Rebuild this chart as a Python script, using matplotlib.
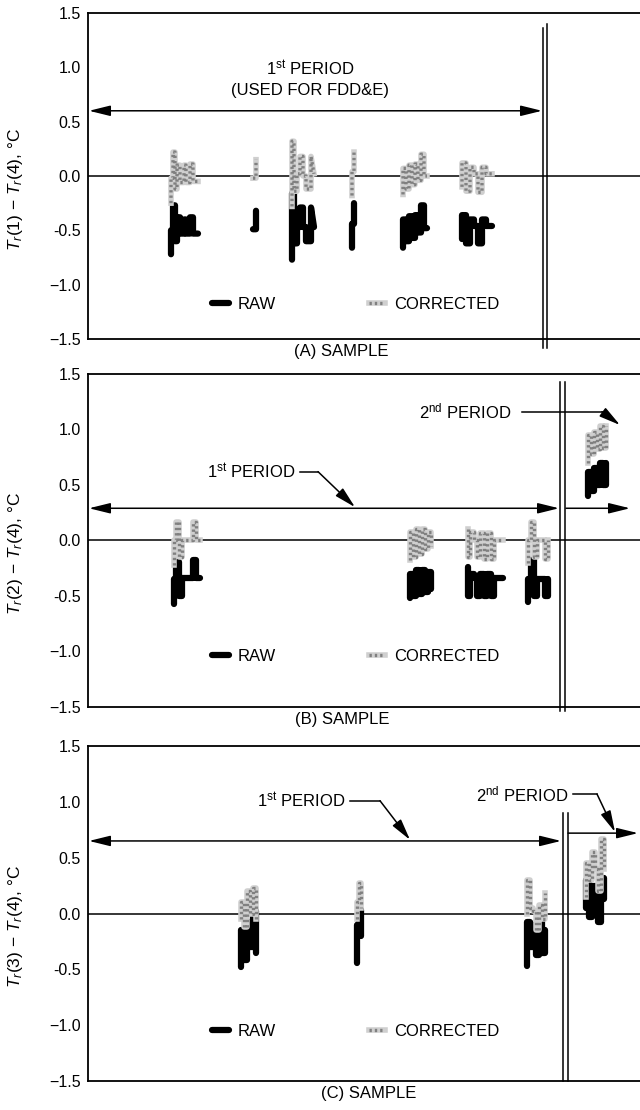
import numpy as np
import matplotlib
matplotlib.use("Agg")
import matplotlib.pyplot as plt

plt.rcParams['font.family'] = ['Liberation Sans', 'DejaVu Sans']
plt.rcParams['mathtext.fontset'] = 'custom'
plt.rcParams['mathtext.rm'] = 'Liberation Sans'
plt.rcParams['mathtext.it'] = 'Liberation Sans:italic'

nan = np.nan

# sample positions (arbitrary sample number) and temperature differences, °C
# panel A: Tr(1) - Tr(4)
sample_a = [171, 171, 173, 173, 175, 175, 177, 177, 180, 180, 184, 184, 186, 186, 190, 190, 193, 193, 198, nan,
            253, 256, 256, nan,
            292, 292, 294, 294, 297, 297, 300, 300, 303, 303, 306, 306, 311, 311, 314, nan,
            352, 352, 354, 354, nan,
            403, 403, 406, 406, 409, 409, 412, 412, 415, 415, 418, 418, 421, 421, 424, 424, 427, nan,
            462, 462, 466, 466, 470, 470, 474, 474, 478, 478, 482, 482, 486, 486, 492]
raw_a = [-0.72, -0.50, -0.50, -0.27, -0.27, -0.60, -0.60, -0.38, -0.38, -0.53, -0.53, -0.40, -0.40, -0.53, -0.53, -0.38, -0.38, -0.53, -0.53, nan,
         -0.49, -0.49, -0.32, nan,
         -0.77, -0.16, -0.16, -0.62, -0.62, -0.47, -0.47, -0.29, -0.29, -0.47, -0.47, -0.60, -0.60, -0.29, -0.47, nan,
         -0.66, -0.44, -0.44, -0.25, nan,
         -0.66, -0.40, -0.40, -0.60, -0.60, -0.37, -0.37, -0.57, -0.57, -0.36, -0.36, -0.52, -0.52, -0.27, -0.27, -0.48, -0.48, nan,
         -0.58, -0.36, -0.36, -0.62, -0.62, -0.40, -0.40, -0.46, -0.46, -0.62, -0.62, -0.40, -0.40, -0.46, -0.46]
cor_a = [-0.25, -0.02, -0.02, 0.22, 0.22, -0.12, -0.12, 0.10, 0.10, -0.06, -0.06, 0.10, 0.10, -0.06, -0.06, 0.11, 0.11, -0.05, -0.05, nan,
         -0.02, -0.02, 0.15, nan,
         -0.28, 0.32, 0.32, -0.14, -0.14, 0.02, 0.02, 0.18, 0.18, 0.00, 0.00, -0.12, -0.12, 0.18, 0.02, nan,
         -0.18, 0.04, 0.04, 0.22, nan,
         -0.17, 0.07, 0.07, -0.12, -0.12, 0.10, 0.10, -0.08, -0.08, 0.11, 0.11, -0.04, -0.04, 0.20, 0.20, 0.00, 0.00, nan,
         -0.10, 0.12, 0.12, -0.14, -0.14, 0.08, 0.08, 0.02, 0.02, -0.15, -0.15, 0.08, 0.08, 0.02, 0.02]

# panel B: Tr(2) - Tr(4)
sample_b = [174, 174, 176, 176, 179, 179, 182, 182, 185, 185, 190, 190, 193, 193, 196, 196, 200, nan,
            410, 410, 413, 413, 416, 416, 419, 419, 422, 422, 425, 425, 428, 428, 431, 431, nan,
            468, 468, 470, 470, 474, 474, 477, 477, 480, 480, 484, 484, 487, 487, 491, 491, 494, 494, 497, 497, 503, nan,
            528, 528, 531, 531, 534, 534, 537, 537, 541, 541, 545, 545, 548, 548, nan,
            588, 588, 591, 591, 594, 594, 597, 597, 600, 600, 603, 603, 606, 606]
raw_b = [-0.57, -0.35, -0.35, -0.19, -0.19, -0.50, -0.50, -0.34, -0.34, -0.34, -0.34, -0.34, -0.34, -0.18, -0.18, -0.34, -0.34, nan,
         -0.52, -0.30, -0.30, -0.50, -0.50, -0.27, -0.27, -0.48, -0.48, -0.27, -0.27, -0.46, -0.46, -0.28, -0.28, -0.44, nan,
         -0.24, -0.50, -0.50, -0.30, -0.30, -0.34, -0.34, -0.50, -0.50, -0.30, -0.30, -0.50, -0.50, -0.30, -0.30, -0.50, -0.50, -0.34, -0.34, -0.34, -0.34, nan,
         -0.55, -0.35, -0.35, -0.18, -0.18, -0.50, -0.50, -0.35, -0.35, -0.35, -0.35, -0.50, -0.50, -0.35, nan,
         0.40, 0.62, 0.62, 0.45, 0.45, 0.65, 0.65, 0.50, 0.50, 0.70, 0.70, 0.50, 0.50, 0.70]
cor_b = [-0.22, 0.00, 0.00, 0.17, 0.17, -0.15, -0.15, 0.00, 0.00, 0.00, 0.00, 0.00, 0.00, 0.17, 0.17, 0.00, 0.00, nan,
         -0.18, 0.08, 0.08, -0.15, -0.15, 0.10, 0.10, -0.12, -0.12, 0.10, 0.10, -0.08, -0.08, 0.08, 0.08, -0.05, nan,
         0.10, -0.15, -0.15, 0.08, 0.08, 0.00, 0.00, -0.15, -0.15, 0.07, 0.07, -0.17, -0.17, 0.07, 0.07, -0.17, -0.17, 0.00, 0.00, 0.00, 0.00, nan,
         -0.20, 0.00, 0.00, 0.17, 0.17, -0.15, -0.15, 0.00, 0.00, 0.00, 0.00, -0.17, -0.17, 0.00, nan,
         0.70, 0.95, 0.95, 0.78, 0.78, 0.98, 0.98, 0.82, 0.82, 1.03, 1.03, 0.83, 0.83, 1.03]

# panel C: Tr(3) - Tr(4)
sample_c = [241, 241, 244, 244, 247, 247, 250, 250, 253, 253, 256, 256, nan,
            357, 357, 359, 359, 361, 361, nan,
            527, 527, 530, 530, 533, 533, 536, 536, 539, 539, 542, 542, 545, 545, nan,
            586, 586, 589, 589, 592, 592, 595, 595, 598, 598, 601, 601, 604, 604]
raw_c = [-0.48, -0.15, -0.15, -0.42, -0.42, -0.08, -0.08, -0.30, -0.30, 0.02, 0.02, -0.35, nan,
         -0.44, -0.10, -0.10, 0.03, 0.03, -0.20, nan,
         -0.47, -0.08, -0.08, -0.30, -0.30, -0.10, -0.10, -0.37, -0.37, -0.05, -0.05, -0.35, -0.35, -0.15, nan,
         0.05, 0.30, 0.30, -0.03, -0.03, 0.25, 0.25, 0.15, 0.15, -0.08, -0.08, 0.32, 0.32, 0.13]
cor_c = [-0.05, 0.10, 0.10, -0.12, -0.12, 0.20, 0.20, 0.00, 0.00, 0.23, 0.23, -0.05, nan,
         -0.05, 0.10, 0.10, 0.27, 0.27, 0.05, nan,
         0.00, 0.30, 0.30, 0.05, 0.05, 0.02, 0.02, -0.15, -0.15, 0.08, 0.08, -0.05, -0.05, 0.18, nan,
         0.15, 0.45, 0.45, 0.30, 0.30, 0.55, 0.55, 0.40, 0.40, 0.20, 0.20, 0.67, 0.67, 0.40]

y_ticks = [-1.5, -1.0, -0.5, 0.0, 0.5, 1.0, 1.5]
y_tick_labels = ['\u22121.5', '\u22121.0', '-0.5', '0.0', '0.5', '1.0', '1.5']
x_min, x_max = 88, 640

fs = 12
fig = plt.figure(figsize=(6.4, 11.1), dpi=100)

panels = [
    dict(rect=[0.1375, 0.6946, 0.8625, 0.2937], x=sample_a, raw=raw_a, cor=cor_a,
         ylabel=r'$T_r$(1) $-$ $T_r$(4), °C', xlabel='(A) SAMPLE', xlab_pos=0.458,
         leg_y=0.107),
    dict(rect=[0.1375, 0.3631, 0.8625, 0.3000], x=sample_b, raw=raw_b, cor=cor_b,
         ylabel=r'$T_r$(2) $-$ $T_r$(4), °C', xlabel='(B) SAMPLE', xlab_pos=0.460,
         leg_y=0.153),
    dict(rect=[0.1375, 0.0261, 0.8625, 0.3018], x=sample_c, raw=raw_c, cor=cor_c,
         ylabel=r'$T_r$(3) $-$ $T_r$(4), °C', xlabel='(C) SAMPLE', xlab_pos=0.508,
         leg_y=0.147),
]

axes = []
for p in panels:
    ax = fig.add_axes(p['rect'])
    ax.set_xlim(x_min, x_max)
    ax.set_ylim(-1.5, 1.5)
    ax.axhline(0, color='black', lw=1.1, zorder=1)
    raw_line, = ax.plot(p['x'], p['raw'], color='black', lw=4.5, solid_capstyle='round', zorder=3)
    cor_base, = ax.plot(p['x'], p['cor'], color='#cfcfcf', lw=4.0, zorder=4)
    cor_dots, = ax.plot(p['x'], p['cor'], color='#808080', lw=2.4, ls=(0, (0.7, 0.9)), zorder=5)
    ax.set_yticks(y_ticks)
    ax.set_yticklabels(y_tick_labels, fontsize=fs - 0.5)
    ax.set_xticks([])
    ax.tick_params(axis='y', length=0, pad=5)
    ax.spines['right'].set_visible(False)
    for s in ['left', 'top', 'bottom']:
        ax.spines[s].set_linewidth(1.3)
    ax.set_ylabel(p['ylabel'], fontsize=fs + 0.5)
    ax.yaxis.set_label_coords(-0.115, 0.46)
    ax.set_xlabel(p['xlabel'], fontsize=fs)
    ax.xaxis.set_label_coords(p['xlab_pos'], -0.015)
    ax.xaxis.label.set_va('top')
    ax.legend([raw_line, (cor_base, cor_dots)], ['RAW', 'CORRECTED'], ncol=2, frameon=False,
              loc='center left', bbox_to_anchor=(0.225, p['leg_y']), borderpad=0, borderaxespad=0,
              handlelength=1.0, handletextpad=0.5, columnspacing=5.6, fontsize=fs)
    axes.append(ax)

ax_a, ax_b, ax_c = axes
arrow_kw = dict(color='black', lw=1.1, shrinkA=0, shrinkB=0, mutation_scale=10)
head2 = '<|-|>,head_length=1.3,head_width=0.32'
head1 = '-|>,head_length=1.3,head_width=0.32'

# panel A annotations
ax_a.plot([543, 543], [-1.58, 1.36], color='black', lw=1.1, clip_on=False)
ax_a.plot([547, 547], [-1.58, 1.40], color='black', lw=1.1, clip_on=False)
ax_a.annotate('', xy=(89, 0.6), xytext=(542, 0.6), arrowprops=dict(arrowstyle=head2, **arrow_kw))
ax_a.text(310, 0.99, r'1$^{\rm st}$ PERIOD', ha='center', va='center', fontsize=fs)
ax_a.text(310, 0.79, '(USED FOR FDD&E)', ha='center', va='center', fontsize=fs)

# panel B annotations
ax_b.plot([560, 560], [-1.54, 1.43], color='black', lw=1.1, clip_on=False)
ax_b.plot([565, 565], [-1.54, 1.43], color='black', lw=1.1, clip_on=False)
ax_b.annotate('', xy=(89, 0.29), xytext=(559, 0.29), arrowprops=dict(arrowstyle=head2, **arrow_kw))
ax_b.annotate('', xy=(630, 0.29), xytext=(566, 0.29), arrowprops=dict(arrowstyle=head1, **arrow_kw))
ax_b.text(251, 0.62, r'1$^{\rm st}$ PERIOD', ha='center', va='center', fontsize=fs)
ax_b.plot([300, 318], [0.62, 0.62], color='black', lw=1.1)
ax_b.annotate('', xy=(355, 0.30), xytext=(318, 0.62), arrowprops=dict(arrowstyle=head1, **arrow_kw))
ax_b.text(465, 1.16, r'2$^{\rm nd}$ PERIOD', ha='center', va='center', fontsize=fs)
ax_b.plot([522, 602], [1.16, 1.16], color='black', lw=1.1)
ax_b.annotate('', xy=(620, 1.04), xytext=(602, 1.16), arrowprops=dict(arrowstyle=head1, **arrow_kw))

# panel C annotations
ax_c.plot([563, 563], [-1.5, 0.90], color='black', lw=1.1, clip_on=False)
ax_c.plot([568, 568], [-1.5, 0.90], color='black', lw=1.1, clip_on=False)
ax_c.annotate('', xy=(89, 0.65), xytext=(561, 0.65), arrowprops=dict(arrowstyle=head2, **arrow_kw))
ax_c.annotate('', xy=(638, 0.72), xytext=(568, 0.72), arrowprops=dict(arrowstyle=head1, **arrow_kw))
ax_c.text(301, 1.01, r'1$^{\rm st}$ PERIOD', ha='center', va='center', fontsize=fs)
ax_c.plot([350, 380], [1.01, 1.01], color='black', lw=1.1)
ax_c.annotate('', xy=(410, 0.66), xytext=(380, 1.01), arrowprops=dict(arrowstyle=head1, **arrow_kw))
ax_c.text(522, 1.07, r'2$^{\rm nd}$ PERIOD', ha='center', va='center', fontsize=fs)
ax_c.plot([573, 597], [1.07, 1.07], color='black', lw=1.1)
ax_c.annotate('', xy=(615, 0.73), xytext=(597, 1.07), arrowprops=dict(arrowstyle=head1, **arrow_kw))

fig.savefig('out.png', dpi=100)
